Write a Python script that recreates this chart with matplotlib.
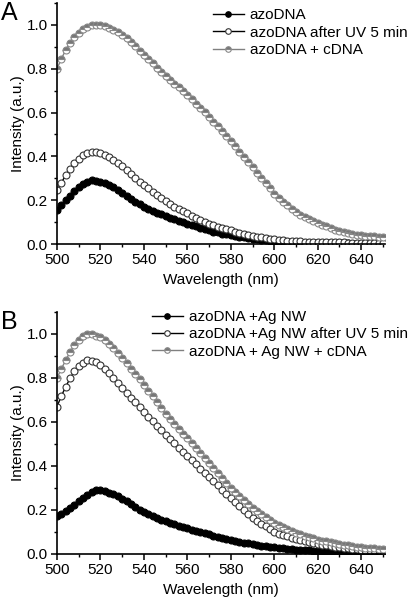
import numpy as np
import matplotlib
matplotlib.use("Agg")
import matplotlib.pyplot as plt
from matplotlib.ticker import MultipleLocator, FormatStrFormatter

plt.rcParams['font.family'] = ['Liberation Sans', 'DejaVu Sans']

# wavelength grid (nm), one point every 2 nm
wavelength = np.arange(500, 651, 2)

# panel A
azo = [.155, .178, .199, .220, .240, .258, .272, .283, .290, .289, .285, .278, .269, .259, .247, .235,
       .221, .207, .194, .181, .170, .160, .151, .143, .135, .128, .121, .114, .107, .100, .093, .087,
       .080, .074, .068, .062, .057, .053, .048, .044, .040, .037, .033, .030, .027, .024, .022, .019,
       .017, .015, .013, .012, .011, .009, .008, .007, .006, .006, .005, .005, .004, .004, .004, .003,
       .003, .003, .003, .003, .002, .002, .002, .002, .002, .002, .002, .002]
azo_uv = [.245, .280, .314, .344, .369, .390, .405, .415, .420, .419, .415, .406, .395, .383, .370, .355,
          .337, .319, .301, .285, .270, .254, .239, .224, .209, .195, .183, .171, .160, .150, .140, .130,
          .120, .110, .101, .092, .086, .079, .073, .067, .062, .057, .051, .046, .041, .037, .034, .031,
          .028, .025, .022, .020, .018, .016, .014, .013, .012, .011, .010, .009, .009, .008, .008, .008,
          .007, .007, .007, .006, .006, .006, .006, .006, .005, .005, .005, .005]
azo_cdna = [.800, .845, .885, .918, .944, .965, .980, .991, .998, 1.000, .998, .994, .987, .978, .967, .955,
            .940, .922, .903, .882, .862, .843, .824, .805, .785, .766, .749, .732, .715, .698, .680, .661,
            .641, .621, .601, .580, .559, .537, .515, .493, .470, .446, .422, .398, .374, .350, .326, .302,
            .278, .254, .230, .211, .193, .176, .160, .145, .134, .123, .113, .104, .095, .087, .080, .073,
            .066, .060, .056, .051, .047, .043, .040, .038, .037, .035, .034, .033]

# panel B
ag = [.173, .183, .194, .207, .223, .240, .256, .270, .282, .290, .289, .285, .279, .271, .262, .252,
      .239, .226, .214, .202, .190, .181, .172, .164, .156, .148, .142, .136, .129, .123, .117, .111,
      .106, .100, .094, .089, .084, .079, .074, .069, .064, .060, .056, .052, .048, .044, .041, .038,
      .035, .033, .030, .028, .026, .024, .022, .020, .019, .017, .016, .014, .013, .012, .011, .011,
      .010, .009, .008, .008, .007, .007, .006, .006, .006, .005, .005, .005]
ag_uv = [.670, .718, .760, .798, .830, .853, .870, .880, .878, .871, .860, .842, .821, .799, .776, .754,
         .732, .710, .689, .667, .645, .624, .603, .583, .562, .542, .522, .503, .483, .464, .445, .426,
         .407, .388, .369, .350, .331, .312, .293, .274, .255, .236, .218, .200, .182, .165, .151, .138,
         .125, .112, .100, .093, .086, .080, .074, .068, .063, .058, .054, .049, .045, .042, .039, .036,
         .033, .030, .028, .026, .024, .022, .020, .019, .018, .017, .016, .015]
ag_cdna = [.800, .842, .880, .918, .950, .973, .990, 1.000, .998, .993, .985, .971, .954, .935, .912, .889,
           .866, .842, .818, .794, .770, .743, .716, .689, .662, .635, .613, .591, .569, .547, .525, .503,
           .481, .459, .437, .415, .392, .369, .346, .323, .300, .281, .263, .245, .227, .210, .195, .181,
           .167, .153, .140, .130, .121, .112, .103, .095, .089, .083, .077, .071, .065, .061, .057, .053,
           .049, .045, .042, .039, .036, .033, .030, .028, .027, .025, .024, .022]

labels_a = ['azoDNA', 'azoDNA after UV 5 min', 'azoDNA + cDNA']
labels_b = ['azoDNA +Ag NW', 'azoDNA +Ag NW after UV 5 min', 'azoDNA + Ag NW + cDNA']

FS = 11


def draw_panel(ax, series, labels, letter, leg_xy):
    filled, opened, grey = series
    ms = 5.0
    ax.plot(wavelength, filled, '-o', color='black', lw=1.0, ms=ms,
            mfc='black', mec='black', mew=0.8, label=labels[0])
    ax.plot(wavelength, opened, '-o', color='black', lw=1.0, ms=ms,
            mfc='white', mec='#333333', mew=0.8, label=labels[1])
    ax.plot(wavelength, grey, '-o', color='#808080', lw=1.0, ms=ms,
            mfc='#777777', mfcalt='white', fillstyle='top', mec='#888888',
            mew=0.8, label=labels[2])

    ax.set_xlim(500, 651)
    ax.set_ylim(0, 1.1)
    ax.xaxis.set_major_locator(MultipleLocator(20))
    ax.xaxis.set_minor_locator(MultipleLocator(10))
    ax.yaxis.set_major_locator(MultipleLocator(0.2))
    ax.yaxis.set_minor_locator(MultipleLocator(0.1))
    ax.yaxis.set_major_formatter(FormatStrFormatter('%.1f'))
    for s in ['top', 'right']:
        ax.spines[s].set_visible(False)
    for s in ['left', 'bottom']:
        ax.spines[s].set_linewidth(1.2)
    ax.tick_params(which='major', direction='out', length=4.5, width=1.1, labelsize=FS, pad=2)
    ax.tick_params(which='minor', direction='out', length=2.5, width=1.0)
    ax.set_xlabel('Wavelength (nm)', fontsize=FS, labelpad=4)
    ax.set_ylabel('Intensity (a.u.)', fontsize=FS, labelpad=1.5)

    leg = ax.legend(loc='upper left', bbox_to_anchor=leg_xy, frameon=False, fontsize=FS,
                    handlelength=2.0, handletextpad=0.4, labelspacing=0.22, borderpad=0,
                    borderaxespad=0)
    for h in leg.legend_handles:
        h.set_markersize(4)
    ax.text(-0.17, 1.01, letter, transform=ax.transAxes, fontsize=18,
            ha='left', va='top')


fig = plt.figure(figsize=(4.08, 6.0), dpi=100)
ax_a = fig.add_axes([0.1397, 0.5933, 0.804, 0.4017])
ax_b = fig.add_axes([0.1397, 0.0767, 0.804, 0.4033])

draw_panel(ax_a, (azo, azo_uv, azo_cdna), labels_a, 'A', (0.476, 0.978))
draw_panel(ax_b, (ag, ag_uv, ag_cdna), labels_b, 'B', (0.29, 1.008))

fig.savefig('out.png', dpi=100)
